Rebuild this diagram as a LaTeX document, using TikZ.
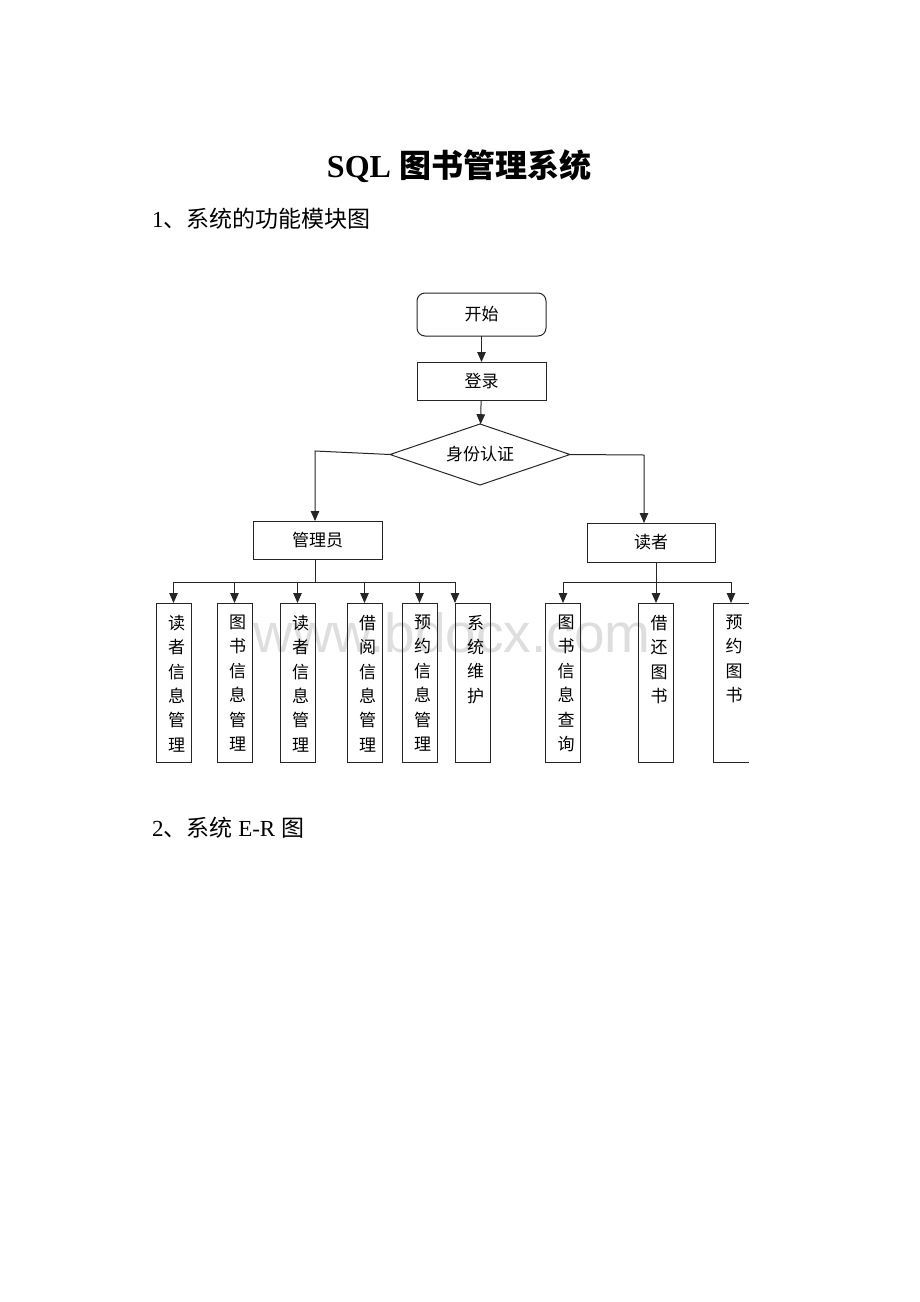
\documentclass[tikz,border=0pt]{standalone}
\usepackage{fontspec}
\setmainfont{Liberation Serif}
\newfontfamily\cjk{Noto Sans CJK SC}
\newfontfamily\wmfont{Liberation Sans}
\usetikzlibrary{shapes.geometric,arrows.meta}
\begin{document}
\begin{tikzpicture}[x=1pt,y=-1pt,
  every node/.style={inner sep=0pt, outer sep=0pt},
  ln/.style={line width=1pt, draw=black!85},
  arr/.style={ln, -{Triangle[length=10pt,width=8.5pt]}},
  hbox/.style={ln, draw, minimum width=129pt, minimum height=38pt, font=\cjk\fontsize{17}{17}\selectfont},
  vbox/.style={ln, draw, minimum width=35pt, minimum height=159pt},
  vtxt/.style={anchor=north, align=center, font=\cjk\fontsize{17}{24.4}\selectfont, xshift=3pt, yshift=-12pt},
  heading/.style={anchor=base west, font=\fontsize{23}{23}\selectfont},
]
\path[use as bounding box, fill=white] (0,0) rectangle (920,1302);

% watermark
\node[anchor=base, text=black!13, font=\wmfont\fontsize{55}{55}\selectfont] (wm) at (452,652) {www.bdocx.com};

% headings
\node[anchor=base, font=\fontsize{32}{32}\selectfont\bfseries] (title) at (459,177) {SQL {\cjk 图书管理系统}};
\node[heading] (h1) at (152,227) {1{\cjk 、系统的功能模块图}};
\node[heading] (h2) at (152,836) {2{\cjk 、系统} E-R {\cjk 图}};

% top flow
\node[hbox, rounded corners=8pt, minimum height=43pt] (start) at (481.5,314.5) {开始};
\node[hbox] (login) at (481.5,381) {登录};
\node[ln, draw, diamond, aspect=3, minimum width=180pt, minimum height=61pt, font=\cjk\fontsize{17}{17}\selectfont] (auth) at (480,454.5) {身份认证};
\draw[arr] (start) -- (login);
\draw[arr] (login) -- (auth);

\node[hbox] (admin) at (317.5,540) {管理员};
\node[hbox, minimum width=128pt, minimum height=39pt] (reader) at (651,542.5) {读者};

\coordinate (jl) at (315,451);
\coordinate (jr) at (644,455);
\draw[arr] (auth.west) -- (jl) -- (jl |- admin.north);
\draw[arr] (auth.east) -- (jr) -- (jr |- reader.north);

% admin modules
\node[vbox] (b1) at (173.5,682.5) {};
\node[vbox] (b2) at (234.5,682.5) {};
\node[vbox] (b3) at (297.5,682.5) {};
\node[vbox] (b4) at (364.5,682.5) {};
\node[vbox] (b5) at (419.5,682.5) {};
\node[vbox] (b6) at (472.5,682.5) {};
\node[vtxt] (t1) at (b1.north) {读\\者\\信\\息\\管\\理};
\node[vtxt] (t2) at (b2.north) {图\\书\\信\\息\\管\\理};
\node[vtxt] (t3) at (b3.north) {读\\者\\信\\息\\管\\理};
\node[vtxt] (t4) at (b4.north) {借\\阅\\信\\息\\管\\理};
\node[vtxt] (t5) at (b5.north) {预\\约\\信\\息\\管\\理};
\node[vtxt] (t6) at (b6.north) {系\\统\\维\\护};

\coordinate (ja) at (315,582);
\draw[ln] (ja |- admin.south) -- (ja);
\draw[ln] (b1.north |- ja) -- (b6.north west |- ja);
\draw[arr] (b1.north |- ja) -- (b1.north);
\draw[arr] (b2.north |- ja) -- (b2.north);
\draw[arr] (b3.north |- ja) -- (b3.north);
\draw[arr] (b4.north |- ja) -- (b4.north);
\draw[arr] (b5.north |- ja) -- (b5.north);
\draw[arr] (b6.north west |- ja) -- (b6.north west);

% reader modules
\node[vbox] (b7) at (563,682.5) {};
\node[vbox] (b8) at (656,682.5) {};
\node[vbox, draw=none] (b9) at (731,682.5) {};
\draw[ln] (b9.north east) -- (b9.north west) -- (b9.south west) -- (b9.south east);
\node[vtxt] (t7) at (b7.north) {图\\书\\信\\息\\查\\询};
\node[vtxt] (t8) at (b8.north) {借\\还\\图\\书};
\node[vtxt] (t9) at (b9.north) {预\\约\\图\\书};

\coordinate (jb) at (656,582);
\draw[ln] (jb |- reader.south) -- (jb);
\draw[ln] (b7.north |- jb) -- (b9.north |- jb);
\draw[arr] (b7.north |- jb) -- (b7.north);
\draw[arr] (jb) -- (b8.north);
\draw[arr] (b9.north |- jb) -- (b9.north);
\end{tikzpicture}
\end{document}
